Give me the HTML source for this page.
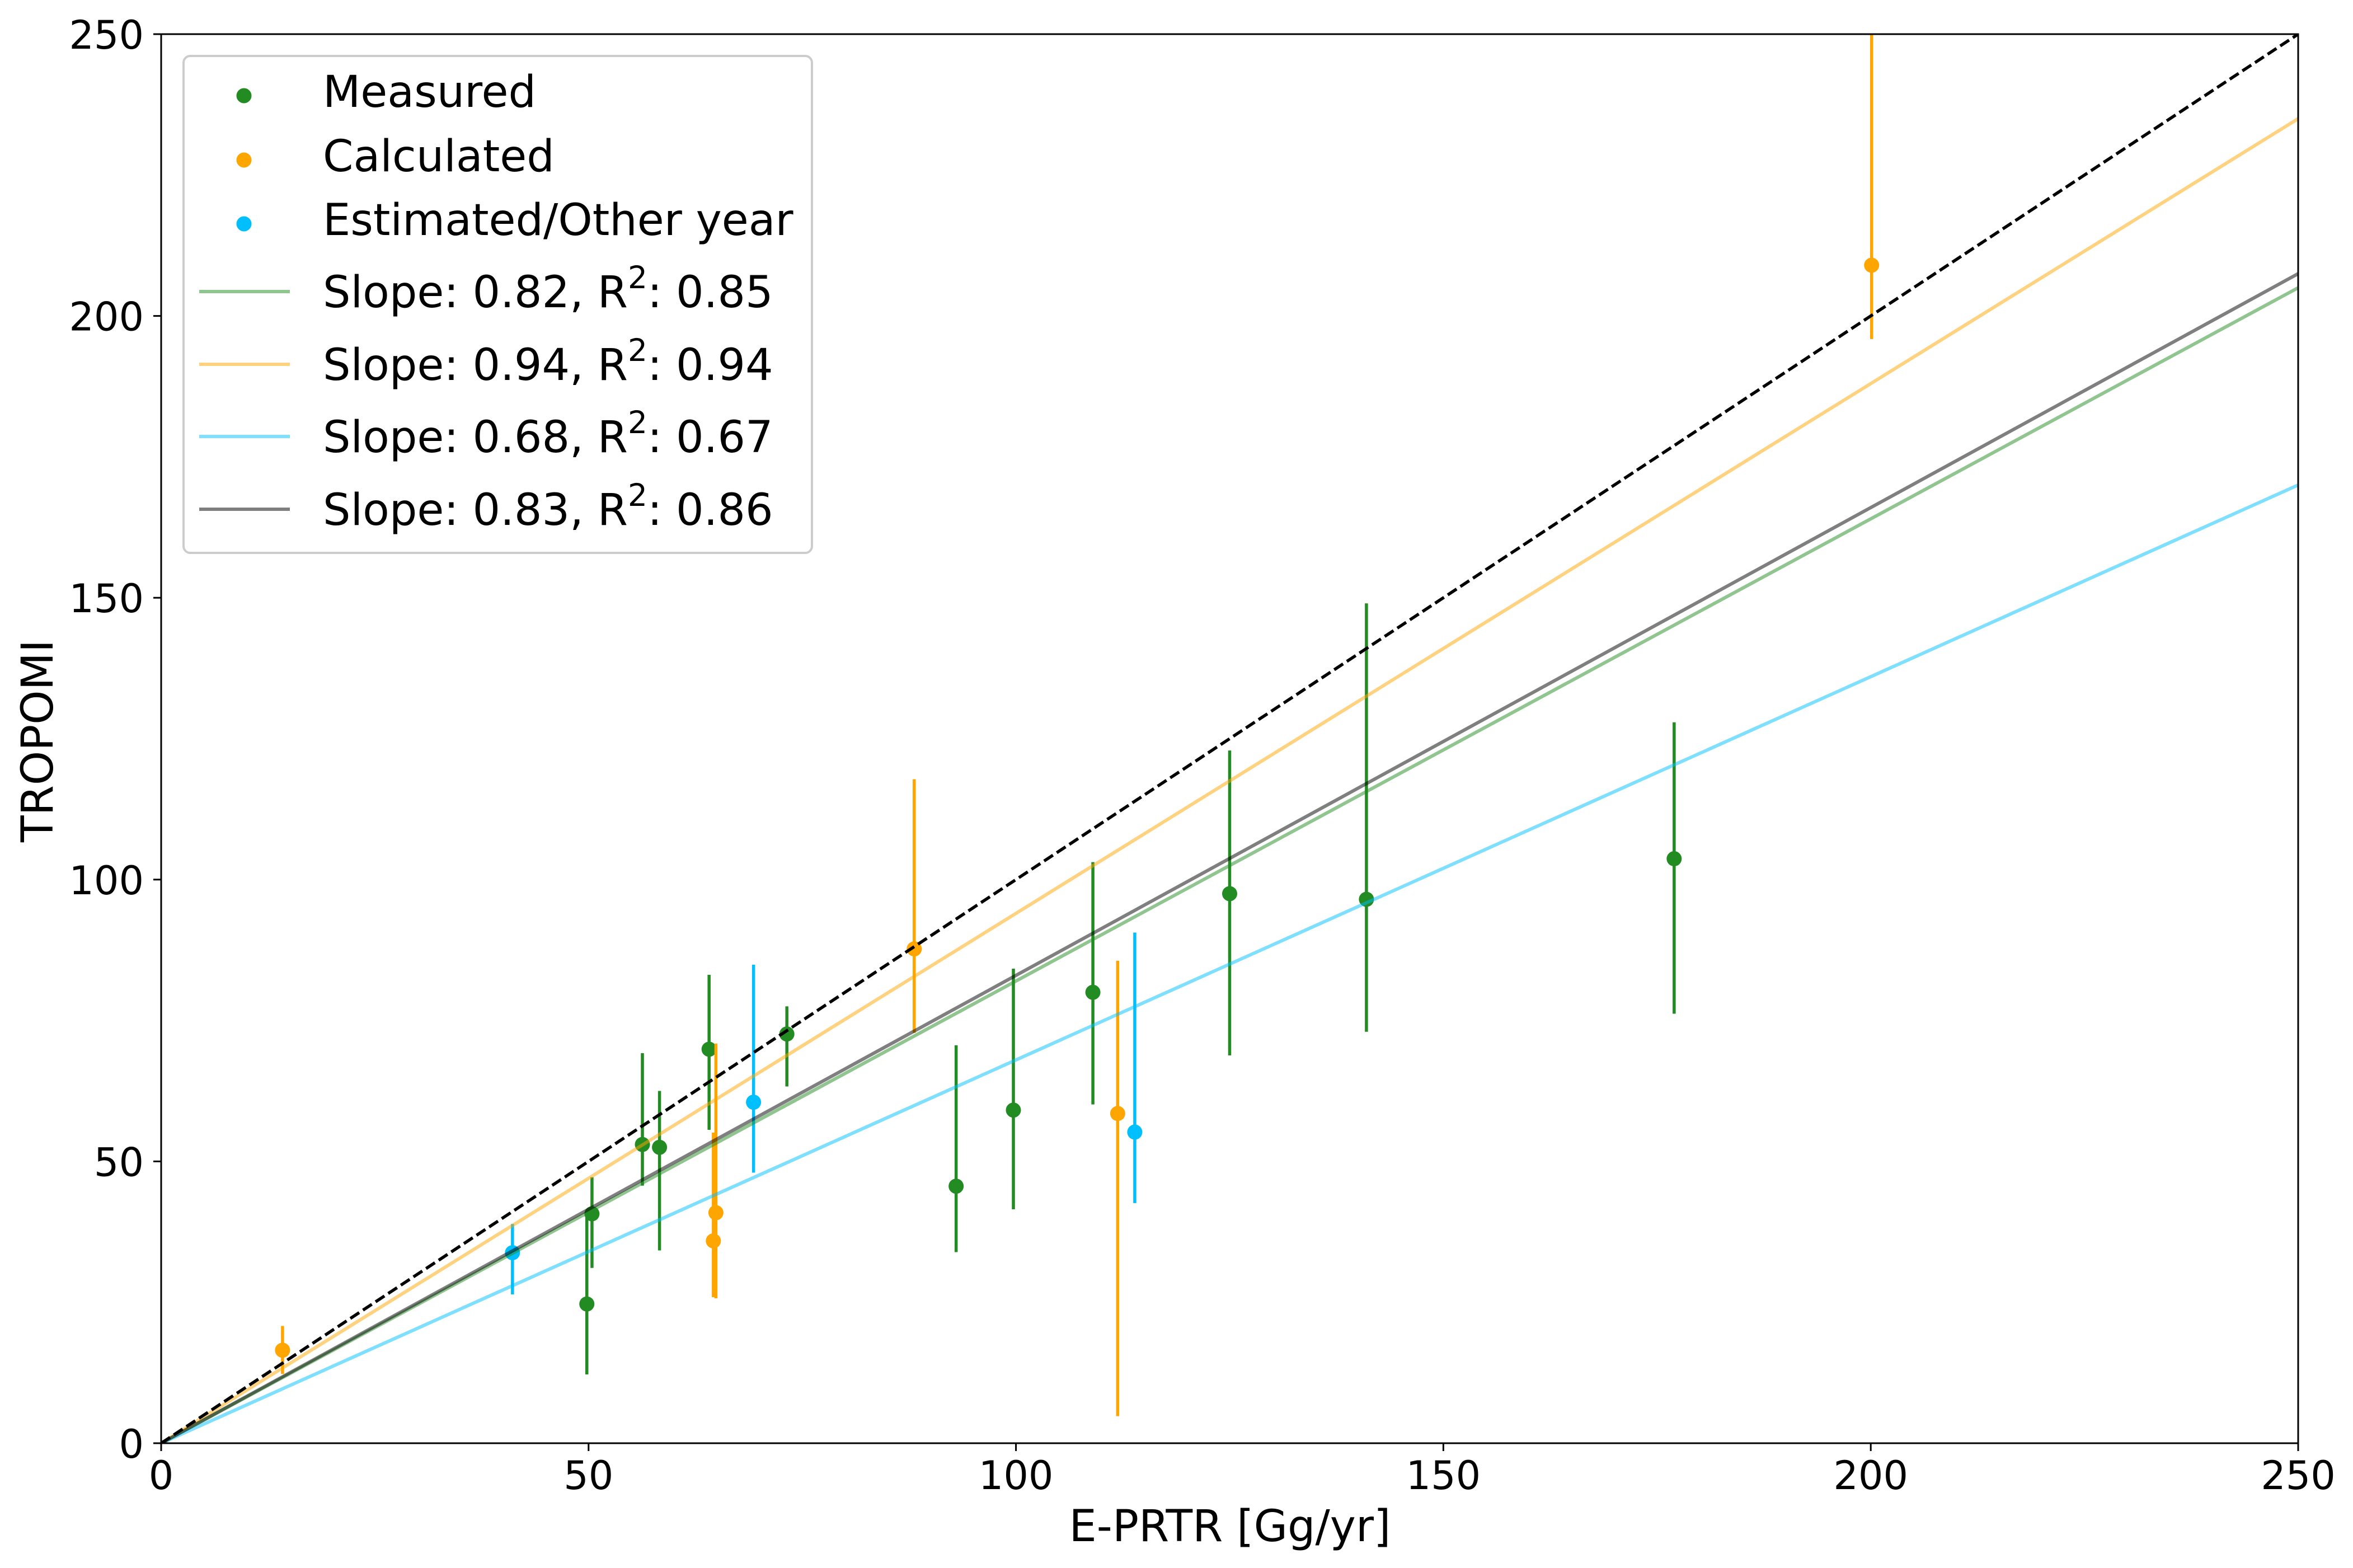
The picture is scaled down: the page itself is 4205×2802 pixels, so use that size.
<!DOCTYPE html>
<html><head><meta charset="utf-8"><style>
html,body{margin:0;padding:0;background:#fff}
svg{display:block;font-family:"DejaVu Sans","Liberation Sans",sans-serif}
</style></head><body>
<svg id="chart" width="4205" height="2802" viewBox="0 0 4205 2802" xmlns="http://www.w3.org/2000/svg">
<rect width="4205" height="2802" fill="#fff"/>
<defs><clipPath id="plotclip"><rect x="288" y="61" width="3819" height="2518"/></clipPath></defs>
<g id="ticks"></g>
<g id="marks" clip-path="url(#plotclip)"></g>
<rect x="288" y="61" width="3819" height="2518" fill="none" stroke="#000" stroke-width="3"/>
<text x="2198" y="2754" font-size="78" text-anchor="middle">E-PRTR [Gg/yr]</text>
<text transform="translate(94,1324) rotate(-90)" font-size="78" text-anchor="middle">TROPOMI</text>
<g id="legend">
<rect x="328" y="100" width="1123" height="888" rx="12" fill="#fff" fill-opacity="0.8" stroke="#ccc" stroke-width="4"/>
</g>
</svg>
<script>
const xMin = 0, xMax = 250, yMin = 0, yMax = 250;
const xTicks = [0, 50, 100, 150, 200, 250];
const yTicks = [0, 50, 100, 150, 200, 250];
// Measured
const measX = [49.8, 50.4, 56.3, 58.3, 64.1, 73.2, 93.0, 99.7, 109.0, 125.0, 141.0, 177.0];
const measY = [24.7, 40.7, 53.0, 52.5, 69.9, 72.6, 45.6, 59.1, 80.0, 97.5, 96.5, 103.7];
const measLo = [12.2, 31.1, 45.7, 34.2, 55.6, 63.3, 33.9, 41.5, 60.1, 68.8, 73.0, 76.2];
const measHi = [40.5, 47.2, 69.2, 62.5, 83.1, 77.5, 70.6, 84.2, 103.1, 122.9, 149.0, 127.9];
// Calculated
const calcX = [14.2, 64.9, 64.6, 88.1, 111.9, 200.1];
const calcY = [16.5, 40.9, 35.9, 87.7, 58.5, 209.0];
const calcLo = [12.3, 25.7, 25.9, 72.8, 4.8, 195.9];
const calcHi = [20.8, 70.9, 55.1, 117.8, 85.6, 262.0];
// Estimated / other year
const estX = [41.1, 69.3, 113.9];
const estY = [33.8, 60.5, 55.2];
const estLo = [26.4, 48.0, 42.6];
const estHi = [38.9, 84.9, 90.6];
// Fit lines
const fitSlopes = [0.82, 0.94, 0.68, 0.83];
const fitR2 = [0.85, 0.94, 0.67, 0.86];

const L = 288, R = 4107, T = 61, B = 2579;
const sx = v => L + (v - xMin) / (xMax - xMin) * (R - L);
const sy = v => B - (v - yMin) / (yMax - yMin) * (B - T);
const NS = 'http://www.w3.org/2000/svg';
function mk(tag, attrs, parent) {
  const e = document.createElementNS(NS, tag);
  for (const k in attrs) e.setAttribute(k, attrs[k]);
  parent.appendChild(e);
  return e;
}
const ticksG = document.getElementById('ticks');
const marks = document.getElementById('marks');
const legend = document.getElementById('legend');

xTicks.forEach(t => {
  const l = mk('line', {x1: sx(t), x2: sx(t), y1: B, y2: B + 14, stroke: '#000', 'stroke-width': 3}, ticksG);
  
  
  const tx = mk('text', {x: sx(t), y: 2661, 'font-size': 70, 'text-anchor': 'middle'}, ticksG);
  tx.textContent = t;
  
  
});
yTicks.forEach(t => {
  const l = mk('line', {x1: L - 14, x2: L, y1: sy(t), y2: sy(t), stroke: '#000', 'stroke-width': 3}, ticksG);
  
  
  const tx = mk('text', {x: 257, y: sy(t) + 26, 'font-size': 70, 'text-anchor': 'end'}, ticksG);
  tx.textContent = t;
  
  
});

const series = [
  {name: 'measured', color: '#228B22', x: measX, y: measY, lo: measLo, hi: measHi},
  {name: 'calculated', color: '#FFA500', x: calcX, y: calcY, lo: calcLo, hi: calcHi},
  {name: 'estimated', color: '#00BFFF', x: estX, y: estY, lo: estLo, hi: estHi}
];
series.forEach(s => {
  s.x.forEach((xv, i) => {
    const eb = mk('line', {x1: sx(xv), x2: sx(xv), y1: sy(s.lo[i]), y2: sy(s.hi[i]), stroke: s.color, 'stroke-width': 5.5}, marks);
    
    
    const c = mk('circle', {cx: sx(xv), cy: sy(s.y[i]), r: 13.5, fill: s.color}, marks);
    
    
  });
});
const fitColors = ['#228B22', '#FFA500', '#00BFFF', '#000000'];
const fitNames = ['fit-measured', 'fit-calculated', 'fit-estimated', 'fit-all'];
fitSlopes.forEach((m, i) => {
  const ln = mk('line', {x1: sx(0), y1: sy(0), x2: sx(xMax), y2: sy(m * xMax), stroke: fitColors[i], 'stroke-opacity': 0.5, 'stroke-width': 6}, marks);
  
  
});
const one = mk('line', {x1: sx(0), y1: sy(0), x2: sx(xMax), y2: sy(yMax), stroke: '#000', 'stroke-width': 5.5, 'stroke-dasharray': '19 8'}, marks);



// legend
const baselines = [191, 306, 420, 549, 679, 808, 938];
const labels = ['Measured', 'Calculated', 'Estimated/Other year'];
series.forEach((s, i) => {
  const c = mk('circle', {cx: 436, cy: baselines[i] - 20, r: 13.5, fill: s.color}, legend);
  
  
  const t = mk('text', {x: 577, y: baselines[i], 'font-size': 78}, legend);
  t.textContent = labels[i];
  
  
});
fitSlopes.forEach((m, i) => {
  const by = baselines[3 + i];
  const ln = mk('line', {x1: 356, x2: 518, y1: by - 28, y2: by - 28, stroke: fitColors[i], 'stroke-opacity': 0.5, 'stroke-width': 6}, legend);
  
  
  const t = mk('text', {x: 577, y: by, 'font-size': 78}, legend);
  
  
  const a = mk('tspan', {}, t); a.textContent = 'Slope: ' + m.toFixed(2) + ', R';
  const b = mk('tspan', {dy: -34, 'font-size': 55}, t); b.textContent = '2';
  const c = mk('tspan', {dy: 34}, t); c.textContent = ': ' + fitR2[i].toFixed(2);
});
</script>
</body></html>
